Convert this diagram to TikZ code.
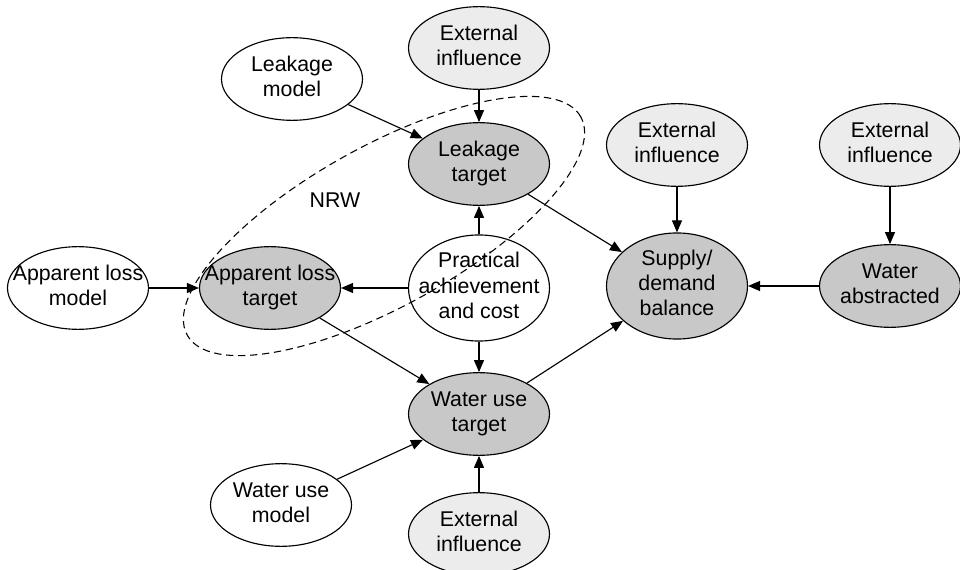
\documentclass[tikz,border=0pt]{standalone}
\usepackage{fontspec}
\setmainfont{Liberation Sans}
\usetikzlibrary{arrows.meta,shapes.geometric}

\definecolor{extgray}{RGB}{236,236,236}
\definecolor{tgtgray}{RGB}{200,200,200}

% centred multi-line label of zero width, so the ellipse keeps its set size
\newcommand{\bublabel}[1]{\makebox[0pt]{\begin{tabular}{@{}c@{}}#1\end{tabular}}}

\begin{document}
\begin{tikzpicture}[x=0.75pt,y=-0.75pt,
  bub/.style={ellipse,draw,line width=0.85pt,inner sep=0pt,
    minimum width=105.75pt,minimum height=62pt,
    font=\fontsize{16pt}{18.75pt}\selectfont},
  ext/.style={bub,fill=extgray},
  tgt/.style={bub,fill=tgtgray},
  mdl/.style={bub,fill=white},
  link/.style={line width=0.85pt,-{Triangle[length=9pt,width=7.5pt]}},
  nrwring/.style={ellipse,draw,dash pattern=on 5.5pt off 3.5pt,line width=0.8pt,
    inner sep=0pt,minimum width=337.5pt,minimum height=120pt,rotate=29}]

\useasboundingbox (0,0) rectangle (960,570);

% top row
\node[ext] (extA) at (479,48) {\bublabel{External\\influence}};
\node[mdl] (lmodel) at (292,79) {\bublabel{Leakage\\model}};
\node[tgt] (ltarget) at (479,164) {\bublabel{Leakage\\target}};
\node[ext] (extB) at (677,145) {\bublabel{External\\influence}};
\node[ext] (extC) at (890,145) {\bublabel{External\\influence}};

% middle row
\node[mdl] (almodel) at (78,288) {\bublabel{Apparent loss\\model}};
\node[tgt] (altarget) at (270,288) {\bublabel{Apparent loss\\target}};
\node[mdl] (practical) at (479,288) {\bublabel{Practical\\achievement\\and cost}};
\node[tgt] (supply) at (677,286) {\bublabel{Supply/\\demand\\balance}};
\node[tgt] (abstracted) at (890,286) {\bublabel{Water\\abstracted}};

% bottom rows
\node[tgt] (wutarget) at (479,414) {\bublabel{Water use\\target}};
\node[mdl] (wumodel) at (281,505) {\bublabel{Water use\\model}};
\node[ext] (extD) at (479,534) {\bublabel{External\\influence}};

% connectors
\draw[link] (extA) -- (ltarget);
\draw[link] (lmodel) -- (ltarget);
\draw[link] (practical) -- (ltarget);
\draw[link] (practical) -- (altarget);
\draw[link] (practical) -- (wutarget);
\draw[link] (almodel) -- (altarget);
\draw[link] (altarget) -- (wutarget);
\draw[link] (ltarget) -- (supply);
\draw[link] (wutarget) -- (supply);
\draw[link] (extB) -- (supply);
\draw[link] (extC) -- (abstracted);
\draw[link] (abstracted) -- (supply);
\draw[link] (wumodel) -- (wutarget);
\draw[link] (extD) -- (wutarget);

% non-revenue water grouping
\node[nrwring] (nrw) at (384,226) {};
\node[font=\fontsize{16pt}{18.75pt}\selectfont] (nrwlabel) at (335,200) {NRW};

\end{tikzpicture}
\end{document}
